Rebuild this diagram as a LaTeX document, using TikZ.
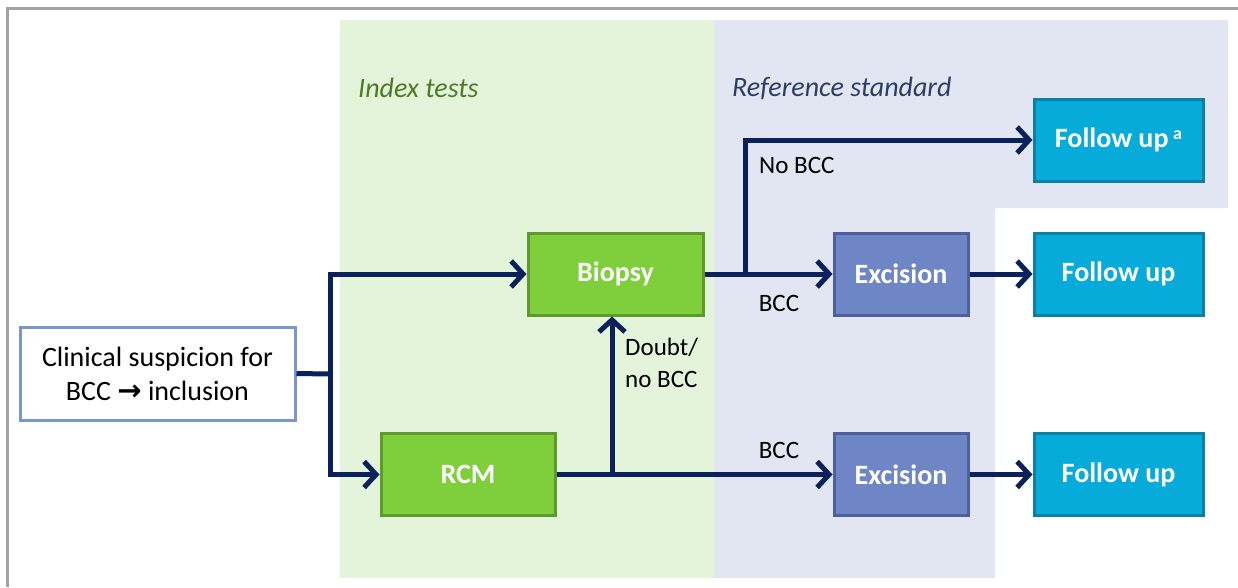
\documentclass[tikz,border=0pt]{standalone}
\usepackage{fontspec}
\setmainfont{Carlito}
\newfontfamily\symfont{DejaVu Sans}
\usetikzlibrary{arrows.meta}
\definecolor{framegray}{HTML}{A3A3A3}
\definecolor{bandgreen}{HTML}{E3F4DA}
\definecolor{bandblue}{HTML}{E2E6F2}
\definecolor{testfill}{HTML}{7ECF3B}
\definecolor{testline}{HTML}{5E9B2C}
\definecolor{excfill}{HTML}{6F86C6}
\definecolor{excline}{HTML}{4F5F9C}
\definecolor{fufill}{HTML}{06ABDA}
\definecolor{fuline}{HTML}{0B80A6}
\definecolor{startline}{HTML}{7B96CF}
\definecolor{navy}{HTML}{0A215E}
\definecolor{headgreen}{HTML}{4E7A27}
\definecolor{headblue}{HTML}{2E3D68}
\tikzset{
  box/.style={draw, line width=3pt, inner sep=0pt, align=center},
  startbox/.style={box, draw=startline, fill=white, minimum width=275pt, minimum height=93pt,
    font=\fontsize{28}{34}\selectfont},
  testbox/.style={box, draw=testline, fill=testfill, text=white, minimum height=82pt,
    font=\fontsize{28}{32}\selectfont\bfseries},
  excbox/.style={box, draw=excline, fill=excfill, text=white, minimum width=134pt, minimum height=82pt,
    font=\fontsize{28}{32}\selectfont\bfseries},
  fubox/.style={box, draw=fuline, fill=fufill, text=white, minimum width=169pt, minimum height=82pt,
    font=\fontsize{28}{32}\selectfont\bfseries},
  conn/.style={draw=navy, line width=5pt, line join=miter},
  arr/.style={conn, -{Straight Barb[length=12pt, width=26pt, line width=5pt]}},
  lbl/.style={inner sep=0pt, font=\fontsize{25}{32}\selectfont, text=black},
  head/.style={inner sep=0pt, anchor=west, font=\fontsize{28}{32}\selectfont\itshape},
}
\begin{document}
\begin{tikzpicture}[x=1pt, y=-1pt]
\useasboundingbox (0,0) rectangle (1238,587);
% background bands
\fill[bandgreen] (340,20) rectangle (714,578);
\fill[bandblue] (714,20) -- (1228,20) -- (1228,208) -- (995,208) -- (995,578) -- (714,578) -- cycle;
% outer frame (top and left edges)
\draw[framegray, line width=3pt] (7,587) -- (7,8) -- (1238,8);

% headers
\node[head, text=headgreen] (hidx) at (358,88) {Index tests};
\node[head, text=headblue] (href) at (732,88) {Reference standard};

% boxes
\node[startbox] (clin) at (157.5,373.5) {Clinical suspicion for\\BCC {\symfont\bfseries\fontsize{29}{34}\selectfont→} inclusion};
\node[testbox, minimum width=175pt] (biopsy) at (615.5,274) {Biopsy};
\node[testbox, minimum width=174pt] (rcm) at (468,474.5) {RCM};
\node[excbox] (exc1) at (901,274) {Excision};
\node[excbox] (exc2) at (901,474.5) {Excision};
\node[fubox] (fu0) at (1118.5,140) {Follow up\,\raisebox{0.6ex}{\fontsize{18}{20}\selectfont a}};
\node[fubox] (fu1) at (1118.5,274) {Follow up};
\node[fubox] (fu2) at (1118.5,474.5) {Follow up};

% branch points
\coordinate (split) at (330,374);
\coordinate (bsplit) at (745,274);
\coordinate (rsplit) at (612,474.5);

% connectors
\draw[conn] (clin.east) -- (split);
\draw[arr] (split) |- (biopsy.west);
\draw[arr] (split) |- (rcm.west);
\draw[arr] (biopsy.east) -- (exc1.west);
\draw[arr] (bsplit) |- (fu0.west);
\draw[arr] (rcm.east) -- (exc2.west);
\draw[arr] (rsplit) -- (rsplit |- biopsy.south);
\draw[arr] (exc1.east) -- (fu1.west);
\draw[arr] (exc2.east) -- (fu2.west);

% branch labels
\node[lbl, anchor=west] (lnobcc) at (759,165) {No BCC};
\node[lbl] (lbcc1) at (779,303) {BCC};
\node[lbl, anchor=north west, align=left] (ldoubt) at (625,338) {Doubt/\\no BCC};
\node[lbl] (lbcc2) at (779,450) {BCC};
\end{tikzpicture}
\end{document}
